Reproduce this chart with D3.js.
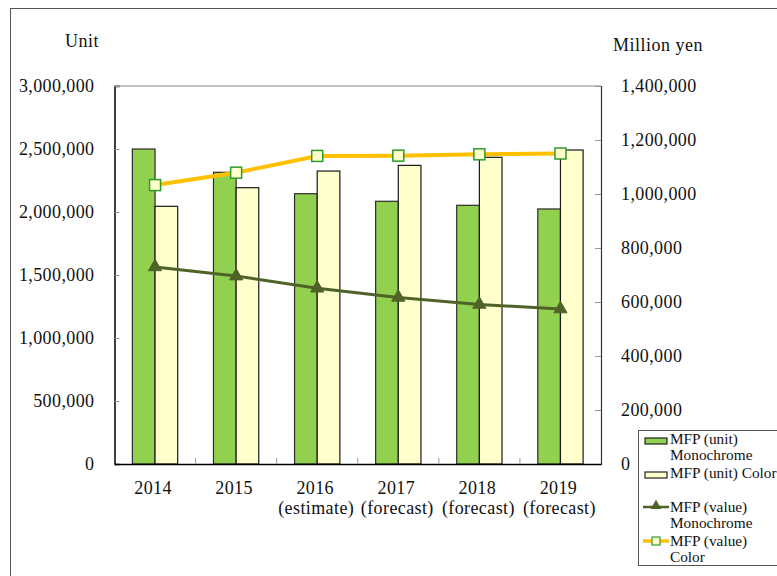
<!DOCTYPE html>
<html>
<head>
<meta charset="utf-8">
<script src="https://cdn.jsdelivr.net/npm/d3@7"></script>
<style>
  html, body { margin: 0; padding: 0; background: #fff; }
  svg { display: block; }
  text { font-family: "Liberation Serif", "Times New Roman", serif; fill: #111; }
</style>
</head>
<body>
<svg id="chart" width="777" height="576"></svg>
<script>
// Years and sub-labels along the category axis
const years = ["2014", "2015", "2016", "2017", "2018", "2019"];
const yearNotes = ["", "", "(estimate)", "(forecast)", "(forecast)", "(forecast)"];

// Shipments in units (left axis)
const unitMono  = [2500000, 2315000, 2145000, 2085000, 2053000, 2024000];
const unitColor = [2045000, 2193000, 2325000, 2370000, 2434000, 2492000];

// Shipment value in million yen (right axis)
const valueMono  = [730000, 696000, 651000, 617000, 591000, 574000];
const valueColor = [1033000, 1079000, 1141000, 1142000, 1147000, 1150000];

// Axis ticks
const leftTicks  = [0, 500000, 1000000, 1500000, 2000000, 2500000, 3000000];
const rightTicks = [0, 200000, 400000, 600000, 800000, 1000000, 1200000, 1400000];

const GREEN = "#92D050", CREAM = "#FFFFCC", OLIVE = "#4F6228", GOLD = "#FFC000", SQ_EDGE = "#2E9A2E";

const svg = d3.select("#chart");
const plot = { left: 114.5, right: 601, top: 86, bottom: 464 };

// Outer frame
svg.append("rect").attr("x", 10.5).attr("y", 8.5).attr("width", 800).attr("height", 600)
  .attr("fill", "none").attr("stroke", "#555").attr("stroke-width", 1);

const x = d3.scaleBand().domain(years).range([plot.left, plot.right]).paddingInner(0).paddingOuter(0);
const xs = d3.scaleBand().domain(["mono", "color"]).range([0, x.bandwidth()]).paddingInner(0).paddingOuter(0.79);
const yL = d3.scaleLinear().domain([0, 3000000]).range([plot.bottom, plot.top]);
const yR = d3.scaleLinear().domain([0, 1400000]).range([plot.bottom, plot.top]);
const fmt = d3.format(",");

// Plot border (top line lighter)
svg.append("line").attr("x1", plot.left).attr("x2", plot.right).attr("y1", plot.top).attr("y2", plot.top)
  .attr("stroke", "#888").attr("stroke-width", 1.2);

// Bars
const groups = svg.append("g").selectAll("g").data(years).join("g")
  .attr("transform", d => `translate(${x(d)},0)`);
groups.append("rect")
  .attr("x", xs("mono")).attr("width", xs.bandwidth())
  .attr("y", (d, i) => yL(unitMono[i])).attr("height", (d, i) => yL(0) - yL(unitMono[i]))
  .attr("fill", GREEN).attr("stroke", "#2b2b2b").attr("stroke-width", 1.2);
groups.append("rect")
  .attr("x", xs("color")).attr("width", xs.bandwidth())
  .attr("y", (d, i) => yL(unitColor[i])).attr("height", (d, i) => yL(0) - yL(unitColor[i]))
  .attr("fill", CREAM).attr("stroke", "#1a1a1a").attr("stroke-width", 1.2);

// Left axis
const axL = d3.axisLeft(yL).tickValues(leftTicks).tickSize(-5).tickFormat(fmt).tickPadding(20);
const gL = svg.append("g").attr("transform", `translate(${plot.left},0)`).call(axL);
gL.select(".domain").attr("stroke", "#000").attr("stroke-width", 1.5);
gL.selectAll(".tick line").attr("stroke", "#999");
gL.selectAll(".tick text").attr("font-size", 18).attr("letter-spacing", 0.4)
  .attr("font-family", "Liberation Serif").attr("fill", "#111");

// Right axis
const axR = d3.axisRight(yR).tickValues(rightTicks).tickSize(-6).tickFormat(fmt).tickPadding(20);
const gR = svg.append("g").attr("transform", `translate(${plot.right},0)`).call(axR);
gR.select(".domain").attr("stroke", "#333").attr("stroke-width", 1.2);
gR.selectAll(".tick line").attr("stroke", "#999");
gR.selectAll(".tick text").attr("font-size", 18).attr("letter-spacing", 0.4)
  .attr("font-family", "Liberation Serif").attr("fill", "#111");

// Bottom axis
const axB = d3.axisBottom(x).tickSize(0).tickFormat("");
const gB = svg.append("g").attr("transform", `translate(0,${plot.bottom})`).call(axB);
gB.select(".domain").attr("stroke", "#000").attr("stroke-width", 1.5);
gB.selectAll(".tick").remove();
// Category separators (short inward ticks)
svg.append("g").selectAll("line").data(years.slice(1)).join("line")
  .attr("x1", d => x(d)).attr("x2", d => x(d))
  .attr("y1", plot.bottom).attr("y2", plot.bottom - 6)
  .attr("stroke", "#999");

const catLabels = svg.append("g");
catLabels.selectAll("text.year").data(years).join("text").attr("class", "year")
  .attr("x", d => x(d) + x.bandwidth() / 2 - 2).attr("y", 494)
  .attr("text-anchor", "middle").attr("font-size", 18).attr("letter-spacing", 0.4)
  .text(d => d);
catLabels.selectAll("text.note").data(years).join("text").attr("class", "note")
  .attr("x", d => x(d) + x.bandwidth() / 2 - 1).attr("y", 514)
  .attr("text-anchor", "middle").attr("font-size", 18).attr("letter-spacing", 0.4)
  .text((d, i) => yearNotes[i]);

// Axis titles
svg.append("text").attr("x", 82).attr("y", 47).attr("text-anchor", "middle")
  .attr("font-size", 18).attr("letter-spacing", 0.5).text("Unit");
svg.append("text").attr("x", 613).attr("y", 51).attr("font-size", 18).attr("letter-spacing", 0.5)
  .text("Million yen");

// Lines on the right axis
const cx = d => x(d) + x.bandwidth() / 2;
const lineMono = d3.line().x((d, i) => cx(years[i])).y(d => yR(d));
svg.append("path").datum(valueMono).attr("d", lineMono)
  .attr("fill", "none").attr("stroke", OLIVE).attr("stroke-width", 3);
svg.append("path").datum(valueColor).attr("d", lineMono)
  .attr("fill", "none").attr("stroke", GOLD).attr("stroke-width", 4);

const tri = d3.symbol().type(d3.symbolTriangle).size(75);
svg.append("g").selectAll("path").data(valueMono).join("path")
  .attr("d", tri)
  .attr("transform", (d, i) => `translate(${cx(years[i])},${yR(d)})`)
  .attr("fill", OLIVE).attr("stroke", OLIVE).attr("stroke-width", 1);

svg.append("g").selectAll("rect").data(valueColor).join("rect")
  .attr("x", (d, i) => cx(years[i]) - 5.5).attr("y", d => yR(d) - 5.5)
  .attr("width", 11).attr("height", 11)
  .attr("fill", CREAM).attr("stroke", SQ_EDGE).attr("stroke-width", 1.5);

// Legend
const lg = svg.append("g");
lg.append("rect").attr("x", 638.5).attr("y", 430.5).attr("width", 160).attr("height", 135)
  .attr("fill", "#fff").attr("stroke", "#555").attr("stroke-width", 1);

const legendText = (y, t) => lg.append("text").attr("x", 670).attr("y", y)
  .attr("font-size", 15.3).text(t);

lg.append("rect").attr("x", 645).attr("y", 438).attr("width", 22).attr("height", 6)
  .attr("fill", GREEN).attr("stroke", "#222").attr("stroke-width", 1.2);
legendText(444, "MFP (unit)");
legendText(460, "Monochrome");

lg.append("rect").attr("x", 645).attr("y", 472).attr("width", 22).attr("height", 6)
  .attr("fill", CREAM).attr("stroke", "#222").attr("stroke-width", 1.2);
legendText(478, "MFP (unit) Color");

lg.append("line").attr("x1", 643).attr("x2", 669).attr("y1", 507).attr("y2", 507)
  .attr("stroke", OLIVE).attr("stroke-width", 2.5);
lg.append("path").attr("d", d3.symbol().type(d3.symbolTriangle).size(50))
  .attr("transform", "translate(656,506)").attr("fill", OLIVE);
legendText(512, "MFP (value)");
legendText(528, "Monochrome");

lg.append("line").attr("x1", 643).attr("x2", 669).attr("y1", 541).attr("y2", 541)
  .attr("stroke", GOLD).attr("stroke-width", 3.5);
lg.append("rect").attr("x", 652).attr("y", 537).attr("width", 8).attr("height", 8)
  .attr("fill", CREAM).attr("stroke", SQ_EDGE).attr("stroke-width", 1.2);
legendText(546, "MFP (value)");
legendText(562, "Color");
</script>
</body>
</html>
